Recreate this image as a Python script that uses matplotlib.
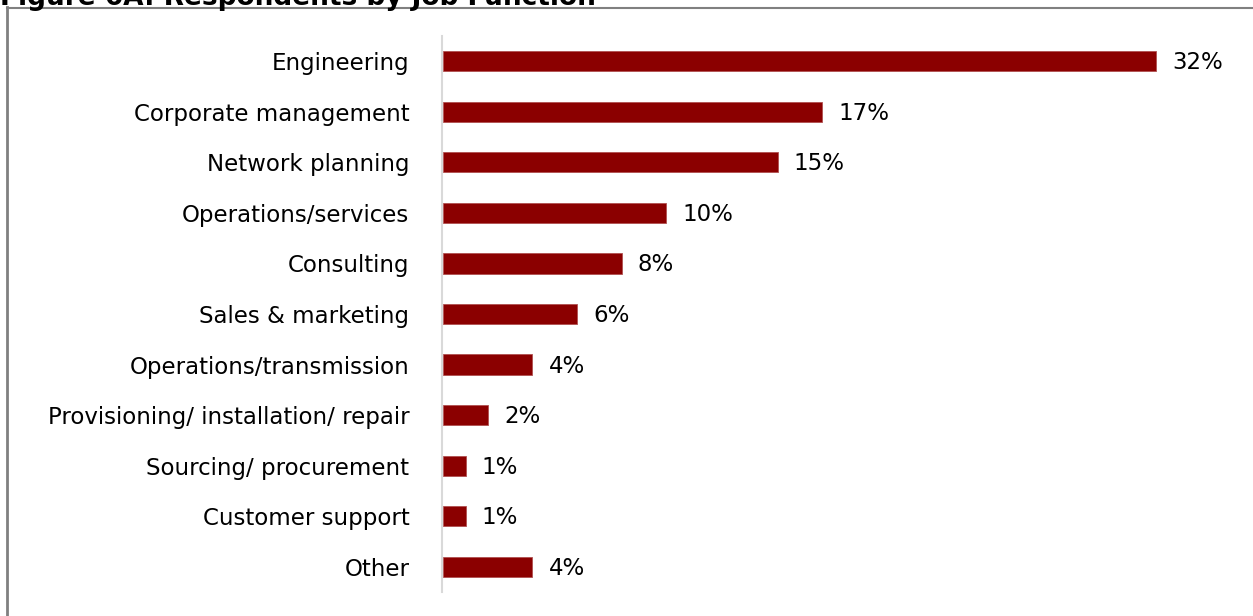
import matplotlib
matplotlib.use("Agg")
import matplotlib.pyplot as plt
from matplotlib.lines import Line2D

categories = [
    "Engineering",
    "Corporate management",
    "Network planning",
    "Operations/services",
    "Consulting",
    "Sales & marketing",
    "Operations/transmission",
    "Provisioning/ installation/ repair",
    "Sourcing/ procurement",
    "Customer support",
    "Other",
]
shares = [32, 17, 15, 10, 8, 6, 4, 2, 1, 1, 4]
title = "Figure 6A: Respondents by Job Function"

W, H = 1253, 616
fig = plt.figure(figsize=(W / 100, H / 100), dpi=100)
plt.rcParams["font.family"] = ["DejaVu Sans"]

# axes placed in pixel units
ax_left, ax_right = 442, 1253
ax_top, ax_bottom = 36, 592
ax = fig.add_axes([ax_left / W, 1 - ax_bottom / H,
                   (ax_right - ax_left) / W, (ax_bottom - ax_top) / H])

px_per_unit = 22.28
ax.set_xlim(0, (ax_right - ax_left) / px_per_unit)
n = len(categories)
ax.set_ylim(n - 0.5, -0.5)

ypos = list(range(n))
ax.barh(ypos, shares, height=0.4, color="#8b0000", edgecolor="#b05050",
        linewidth=0.6, left=0.06)

for y, v in zip(ypos, shares):
    ax.text(v + 0.06 + 16 / px_per_unit, y + 0.03, f"{v}%", va="center",
            ha="left", fontsize=16.5, color="black")

ax.set_yticks(ypos)
ax.set_yticklabels(categories, fontsize=16.5)
ax.tick_params(axis="y", length=0, pad=23.5)
ax.set_xticks([])
for s in ["top", "right", "bottom"]:
    ax.spines[s].set_visible(False)
ax.spines["left"].set_color("#d9d9d9")
ax.spines["left"].set_linewidth(1.5)

# outer frame: left and top edges
fig.add_artist(Line2D([6.5 / W, 6.5 / W], [0, 1 - 7 / H], color="#808080",
                      linewidth=2, transform=fig.transFigure))
fig.add_artist(Line2D([6.5 / W, 1], [1 - 7.5 / H, 1 - 7.5 / H], color="#808080",
                      linewidth=1.5, transform=fig.transFigure))

fig.text(0, 1 - 5 / H, title, fontsize=19, fontweight="bold", va="baseline",
         ha="left")

fig.savefig("out.png", dpi=100)
